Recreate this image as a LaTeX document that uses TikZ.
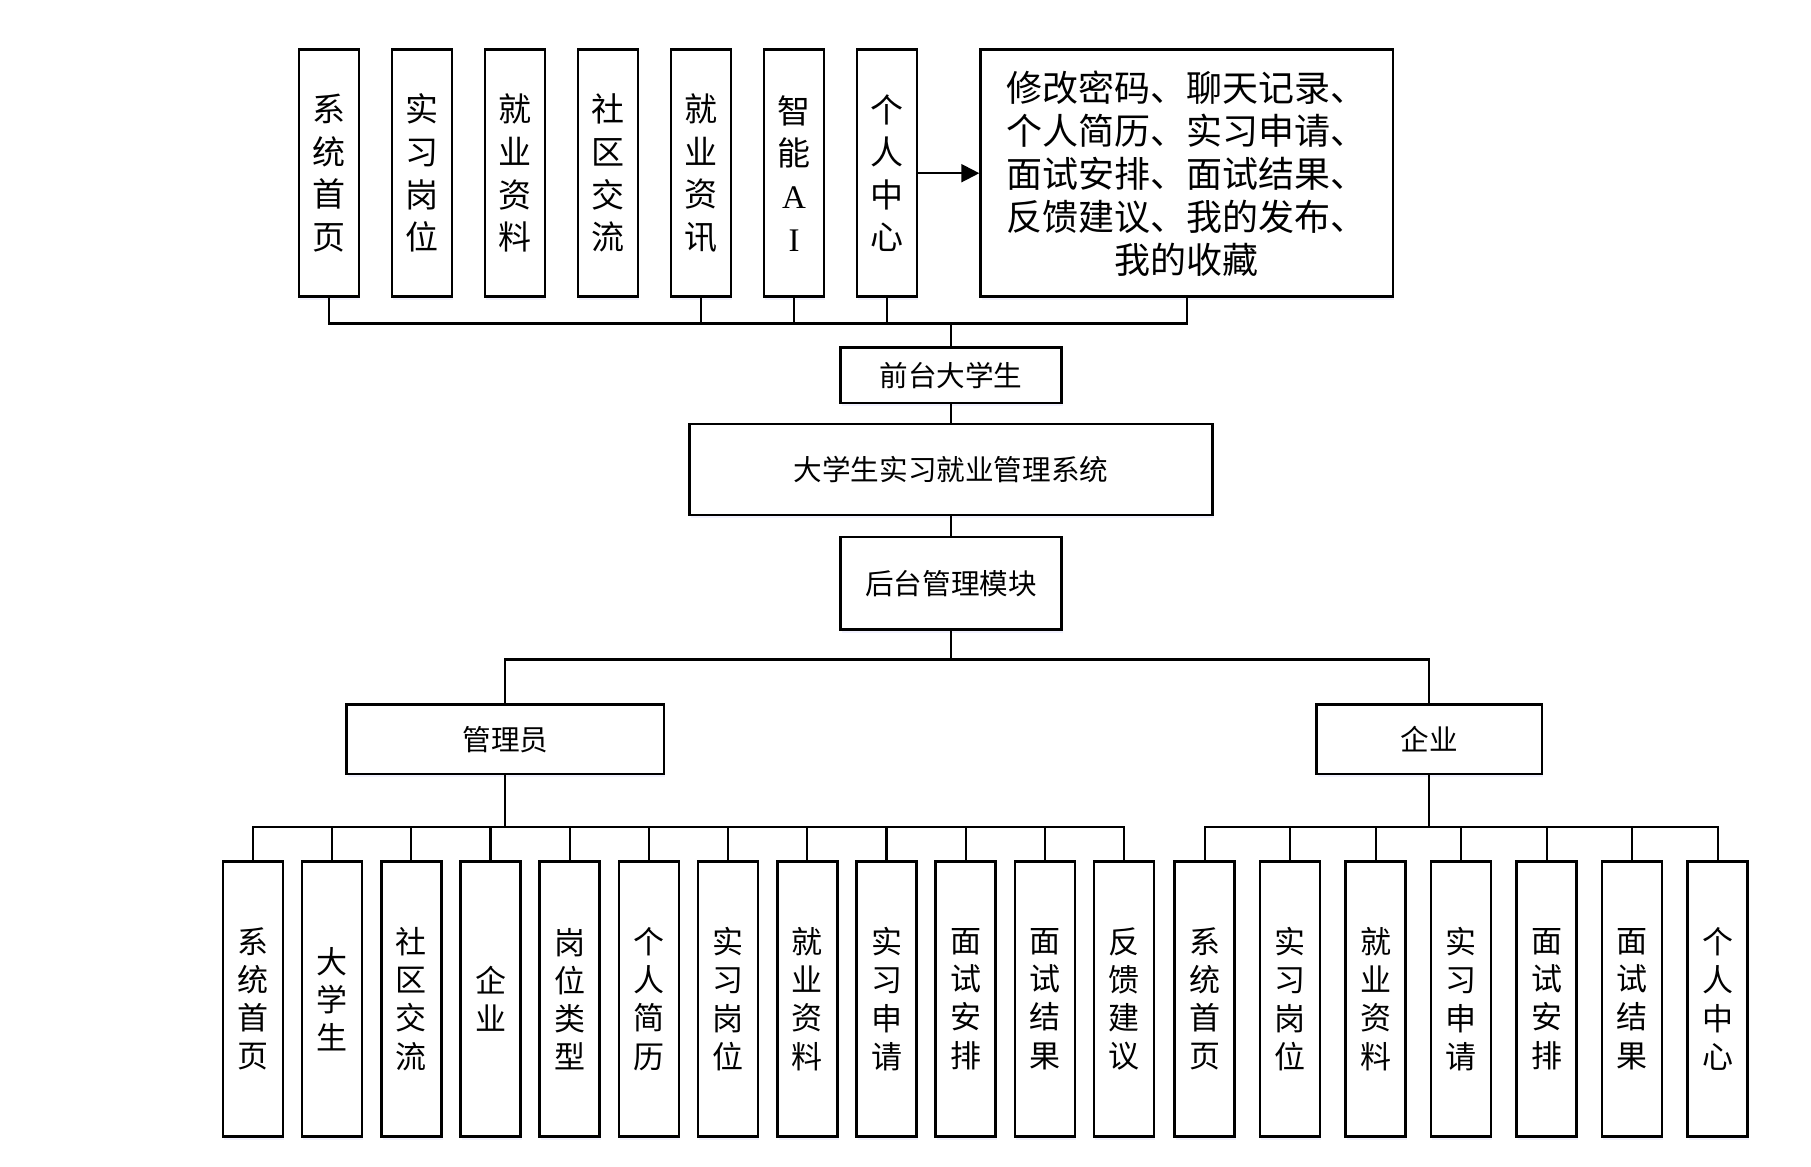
\documentclass[tikz,border=0pt]{standalone}
\usepackage{fontspec}
\setmainfont{Noto Sans CJK SC}
\newfontfamily\latinserif{Liberation Serif}
\usetikzlibrary{arrows.meta,shadows}
\begin{document}
\begin{tikzpicture}[x=0.5pt,y=-0.5pt]
\tikzset{
 box/.style={draw=black, line width=1.3pt, fill=white, inner sep=0pt, align=center, text=black,
   drop shadow={shadow xshift=0.6pt, shadow yshift=-1.6pt, fill=blue!30, opacity=0.18}},
 vbox/.style={box, minimum width=30pt, minimum height=123.5pt, font=\fontsize{16.5pt}{21.3pt}\selectfont},
 lbox/.style={box, minimum width=30pt, minimum height=137.5pt, font=\fontsize{15.5pt}{19.1pt}\selectfont},
 mbox/.style={box, font=\fontsize{14.3pt}{17pt}\selectfont},
 link/.style={line width=1.1pt, draw=black},
}
\fill[white] (0,0) rectangle (1811,1167);
\useasboundingbox (0,0) rectangle (1811,1167);

% top row
\node[vbox] (t1) at (329,173.2) {系\\统\\首\\页};
\node[vbox] (t2) at (422,173.2) {实\\习\\岗\\位};
\node[vbox] (t3) at (515,173.2) {就\\业\\资\\料};
\node[vbox] (t4) at (608,173.2) {社\\区\\交\\流};
\node[vbox] (t5) at (701,173.2) {就\\业\\资\\讯};
\node[vbox] (t6) at (794,173.2) {智\\能\\{\latinserif A}\\{\latinserif I}};
\node[vbox] (t7) at (887,173.2) {个\\人\\中\\心};
\node[box, minimum width=206.2pt, minimum height=123.5pt, font=\fontsize{18pt}{21.5pt}\selectfont] (big) at (1186.8,173.2)
 {修改密码、聊天记录、\\个人简历、实习申请、\\面试安排、面试结果、\\反馈建议、我的发布、\\我的收藏};

% middle column
\node[mbox, minimum width=110.3pt, minimum height=27.75pt] (front) at (951,375.3) {前台大学生};
\node[mbox, minimum width=261.6pt, minimum height=45.6pt] (sys) at (951,469.5) {大学生实习就业管理系统};
\node[mbox, minimum width=110.3pt, minimum height=46.25pt] (back) at (951,583.2) {后台管理模块};
\node[mbox, minimum width=158.8pt, minimum height=34.7pt] (adm) at (505.3,739.2) {管理员};
\node[mbox, minimum width=112.6pt, minimum height=34.7pt] (ent) at (1429.3,739.2) {企业};

% admin children
\node[lbox] (a1) at (252.9,999) {系\\统\\首\\页};
\node[lbox] (a2) at (332.1,999) {大\\学\\生};
\node[lbox] (a3) at (411.3,999) {社\\区\\交\\流};
\node[lbox] (a4) at (490.5,999) {企\\业};
\node[lbox] (a5) at (569.7,999) {岗\\位\\类\\型};
\node[lbox] (a6) at (648.9,999) {个\\人\\简\\历};
\node[lbox] (a7) at (728.1,999) {实\\习\\岗\\位};
\node[lbox] (a8) at (807.3,999) {就\\业\\资\\料};
\node[lbox] (a9) at (886.5,999) {实\\习\\申\\请};
\node[lbox] (a10) at (965.7,999) {面\\试\\安\\排};
\node[lbox] (a11) at (1044.9,999) {面\\试\\结\\果};
\node[lbox] (a12) at (1124.1,999) {反\\馈\\建\\议};

% enterprise children
\node[lbox] (e1) at (1204.6,999) {系\\统\\首\\页};
\node[lbox] (e2) at (1290.1,999) {实\\习\\岗\\位};
\node[lbox] (e3) at (1375.6,999) {就\\业\\资\\料};
\node[lbox] (e4) at (1461.1,999) {实\\习\\申\\请};
\node[lbox] (e5) at (1546.6,999) {面\\试\\安\\排};
\node[lbox] (e6) at (1632.1,999) {面\\试\\结\\果};
\node[lbox] (e7) at (1717.6,999) {个\\人\\中\\心};

% bus coordinates
\coordinate (tbus) at (951,323.4);
\coordinate (mbus) at (951,659.5);
\coordinate (abus) at (505.3,827);
\coordinate (ebus) at (1429.3,827);

% connectors top
\draw[link] (t1.south) |- (tbus);
\draw[link] (t5.south) |- (tbus);
\draw[link] (t6.south) |- (tbus);
\draw[link] (t7.south) |- (tbus);
\draw[link] (big.south) |- (tbus);
\draw[link] (tbus) -- (front.north);
\draw[link, -{Triangle[length=9pt,width=9pt]}] (t7.east) -- (big.west);

% middle
\draw[link] (front.south) -- (sys.north);
\draw[link] (sys.south) -- (back.north);
\draw[link] (back.south) -- (mbus);
\draw[link] (adm.north) |- (mbus);
\draw[link] (ent.north) |- (mbus);

% lower
\draw[link] (adm.south) -- (abus);
\draw[link] (ent.south) -- (ebus);
\foreach \i in {1,...,12} { \draw[link] (a\i.north) |- (abus); }
\foreach \i in {1,...,7} { \draw[link] (e\i.north) |- (ebus); }
\end{tikzpicture}
\end{document}
